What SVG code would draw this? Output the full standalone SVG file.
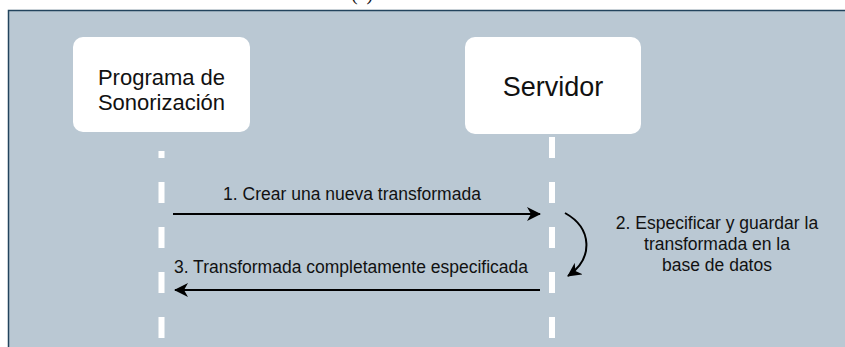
<svg xmlns="http://www.w3.org/2000/svg" width="845" height="347" viewBox="0 0 845 347">
<style>
.lbl{font-family:"Liberation Sans",Arial,sans-serif;fill:#111;}
.box{fill:#ffffff;stroke:none;}
.life{stroke:#ffffff;stroke-width:6;stroke-dasharray:21 24;fill:none;}
.msg{stroke:#000;stroke-width:2;fill:none;}
</style>
<defs>
<marker id="arr" viewBox="0 0 14 14" refX="13" refY="7" markerWidth="14" markerHeight="14" markerUnits="userSpaceOnUse" orient="auto">
<path d="M0,0 L14,7 L0,14 L4,7 Z" fill="#000"/>
</marker>
</defs>
<text x="362" y="0" text-anchor="middle" font-family="Liberation Serif, serif" font-size="20" fill="#111">(a)</text>
<rect x="8.5" y="10.5" width="845" height="345" fill="#bac8d3" stroke="#23445d" stroke-width="1.5"/>
<g id="connectors">
<line id="lifeline-programa" class="life" x1="161.5" y1="151" x2="161.5" y2="347" stroke-dashoffset="14"/>
<line id="lifeline-servidor" class="life" x1="552" y1="137" x2="552" y2="347"/>
<line id="msg1" class="msg" x1="173" y1="214" x2="540" y2="214" marker-end="url(#arr)"/>
<path id="msg2" class="msg" d="M565,213 C592,228 594,258 568,276" marker-end="url(#arr)"/>
<line id="msg3" class="msg" x1="540" y1="290" x2="175" y2="290" marker-end="url(#arr)"/>
</g>
<g id="node-programa">
<rect class="box" x="73" y="37" width="177" height="95" rx="10"/>
<text class="lbl" x="161.5" y="85" text-anchor="middle" font-size="22">Programa de</text>
<text class="lbl" x="161.5" y="110" text-anchor="middle" font-size="22">Sonorización</text>
</g>
<g id="node-servidor">
<rect class="box" x="465" y="37" width="176" height="97" rx="10"/>
<text class="lbl" x="553" y="96" text-anchor="middle" font-size="27">Servidor</text>
</g>
<g id="labels">
<text class="lbl" x="352" y="200" text-anchor="middle" font-size="17.5">1. Crear una nueva transformada</text>
<text class="lbl" x="717" y="229" text-anchor="middle" font-size="17.5">2. Especificar y guardar la</text>
<text class="lbl" x="717" y="250" text-anchor="middle" font-size="17.5">transformada en la</text>
<text class="lbl" x="717" y="271" text-anchor="middle" font-size="17.5">base de datos</text>
<text class="lbl" x="351" y="273" text-anchor="middle" font-size="17.5">3. Transformada completamente especificada</text>
</g>
</svg>
